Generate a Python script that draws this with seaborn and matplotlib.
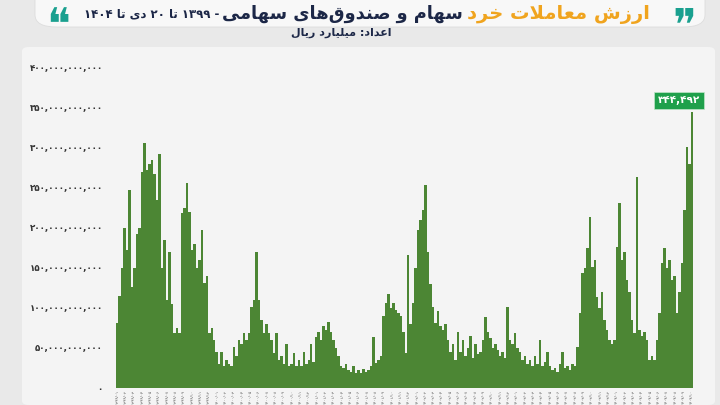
#importing libraries
import re
import numpy as np
import pandas as pd
import seaborn as sns
import matplotlib.pyplot as plt
from matplotlib.patches import FancyBboxPatch

##chart data (thousand-billion scale of the y axis)
retail_value = [
    81, 115, 150, 200, 172, 247, 126, 150, 193, 200,
    270, 306, 272, 280, 285, 268, 235, 293, 150, 185,
    110, 170, 105, 69, 75, 69, 219, 225, 256, 220,
    172, 180, 150, 160, 197, 131, 140, 69, 75, 60,
    45, 30, 45, 27, 35, 30, 27, 51, 40, 60,
    55, 69, 60, 69, 101, 110, 170, 110, 85, 69,
    80, 69, 60, 44, 69, 35, 40, 30, 55, 27,
    30, 44, 27, 35, 28, 45, 30, 35, 55, 33,
    64, 70, 60, 77, 72, 82, 70, 60, 50, 40,
    27, 25, 30, 22, 20, 27, 19, 22, 19, 24,
    20, 22, 27, 64, 31, 35, 40, 90, 106, 118,
    100, 106, 98, 94, 90, 70, 44, 166, 80, 106,
    150, 197, 210, 222, 254, 170, 130, 101, 81, 96,
    78, 73, 80, 60, 45, 55, 35, 70, 45, 60,
    40, 50, 65, 38, 55, 42, 45, 60, 89, 70,
    62, 50, 55, 48, 40, 45, 38, 101, 60, 55,
    69, 50, 45, 35, 40, 30, 35, 27, 40, 30,
    60, 28, 33, 45, 27, 22, 25, 20, 30, 45,
    25, 28, 22, 30, 27, 51, 94, 144, 150, 175,
    214, 151, 160, 114, 100, 120, 85, 73, 60, 55,
    60, 176, 231, 160, 170, 135, 120, 85, 69, 264,
    73, 65, 70, 60, 35, 40, 35, 60, 94, 156,
    175, 150, 160, 135, 140, 94, 120, 156, 222, 301,
    280, 344.492,
]
ytick_values = [0, 50, 100, 150, 200, 250, 300, 350, 400]
ytick_labels = ["۰", "۵۰,۰۰۰,۰۰۰,۰۰۰", "۱۰۰,۰۰۰,۰۰۰,۰۰۰", "۱۵۰,۰۰۰,۰۰۰,۰۰۰",
                "۲۰۰,۰۰۰,۰۰۰,۰۰۰", "۲۵۰,۰۰۰,۰۰۰,۰۰۰", "۳۰۰,۰۰۰,۰۰۰,۰۰۰",
                "۳۵۰,۰۰۰,۰۰۰,۰۰۰", "۴۰۰,۰۰۰,۰۰۰,۰۰۰"]
years = ["۱۳۹۹", "۱۴۰۰", "۱۴۰۱", "۱۴۰۲", "۱۴۰۳", "۱۴۰۴"]
months = ["۰۱", "۰۲", "۰۳", "۰۴", "۰۵", "۰۶", "۰۷", "۰۸", "۰۹", "۱۰", "۱۱", "۱۲"]
xtick_labels = [y + "/" + m for y in years for m in months][:70]
peak_label = "۳۴۴,۴۹۲"

title_orange = "ارزش معاملات خرد"
title_navy = "سهام و صندوق\u200cهای سهامی"
title_dates = "- ۱۳۹۹ تا ۲۰ دی تا ۱۴۰۴"
subtitle = "اعداد: میلیارد ریال"

##tiny arabic shaper (isolated, final, initial, medial)
FORMS = {
    'ا': ('\uFE8D', '\uFE8E', None, None), 'آ': ('\uFE81', '\uFE82', None, None),
    'ب': ('\uFE8F', '\uFE90', '\uFE91', '\uFE92'), 'پ': ('\uFB56', '\uFB57', '\uFB58', '\uFB59'),
    'ت': ('\uFE95', '\uFE96', '\uFE97', '\uFE98'), 'ث': ('\uFE99', '\uFE9A', '\uFE9B', '\uFE9C'),
    'ج': ('\uFE9D', '\uFE9E', '\uFE9F', '\uFEA0'), 'چ': ('\uFB7A', '\uFB7B', '\uFB7C', '\uFB7D'),
    'ح': ('\uFEA1', '\uFEA2', '\uFEA3', '\uFEA4'), 'خ': ('\uFEA5', '\uFEA6', '\uFEA7', '\uFEA8'),
    'د': ('\uFEA9', '\uFEAA', None, None), 'ذ': ('\uFEAB', '\uFEAC', None, None),
    'ر': ('\uFEAD', '\uFEAE', None, None), 'ز': ('\uFEAF', '\uFEB0', None, None),
    'ژ': ('\uFB8A', '\uFB8B', None, None),
    'س': ('\uFEB1', '\uFEB2', '\uFEB3', '\uFEB4'), 'ش': ('\uFEB5', '\uFEB6', '\uFEB7', '\uFEB8'),
    'ص': ('\uFEB9', '\uFEBA', '\uFEBB', '\uFEBC'), 'ض': ('\uFEBD', '\uFEBE', '\uFEBF', '\uFEC0'),
    'ط': ('\uFEC1', '\uFEC2', '\uFEC3', '\uFEC4'), 'ظ': ('\uFEC5', '\uFEC6', '\uFEC7', '\uFEC8'),
    'ع': ('\uFEC9', '\uFECA', '\uFECB', '\uFECC'), 'غ': ('\uFECD', '\uFECE', '\uFECF', '\uFED0'),
    'ف': ('\uFED1', '\uFED2', '\uFED3', '\uFED4'), 'ق': ('\uFED5', '\uFED6', '\uFED7', '\uFED8'),
    'ک': ('\uFB8E', '\uFB8F', '\uFB90', '\uFB91'), 'گ': ('\uFB92', '\uFB93', '\uFB94', '\uFB95'),
    'ل': ('\uFEDD', '\uFEDE', '\uFEDF', '\uFEE0'), 'م': ('\uFEE1', '\uFEE2', '\uFEE3', '\uFEE4'),
    'ن': ('\uFEE5', '\uFEE6', '\uFEE7', '\uFEE8'), 'ه': ('\uFEE9', '\uFEEA', '\uFEEB', '\uFEEC'),
    'و': ('\uFEED', '\uFEEE', None, None), 'ی': ('\uFBFC', '\uFBFD', '\uFBFE', '\uFBFF'),
}


def shape(text):
    out = []
    i = 0
    while i < len(text):
        c = text[i]
        prev = text[i - 1] if i > 0 else ''
        nxt = text[i + 1] if i + 1 < len(text) else ''
        joins_prev = prev in FORMS and FORMS[prev][2] is not None
        if c == 'ل' and nxt in ('ا', 'آ'):
            out.append('\uFEFC' if joins_prev else '\uFEFB')
            i += 2
            continue
        if c not in FORMS:
            if c != '\u200c':
                out.append(c)
            i += 1
            continue
        joins_next = FORMS[c][2] is not None and nxt in FORMS
        iso, fin, ini, med = FORMS[c]
        if joins_prev and joins_next:
            out.append(med)
        elif joins_prev:
            out.append(fin)
        elif joins_next:
            out.append(ini)
        else:
            out.append(iso)
        i += 1
    # right-to-left visual order, digit runs stay left-to-right
    tokens = re.findall(r'[0-9۰-۹,/]+|[^0-9۰-۹,/]+', ''.join(out))
    return ''.join(t if re.match(r'[0-9۰-۹]', t) else t[::-1] for t in tokens[::-1])


##figure
sns.set_style("white")
plt.rcParams['font.family'] = ['DejaVu Sans']
fig = plt.figure(figsize=(7.2, 4.05), dpi=100, facecolor='#e9e9e9')

# background panels
fig.patches.append(FancyBboxPatch((22 / 720, 0), 693 / 720, 358 / 405, boxstyle="round,pad=0,rounding_size=0.01",
                                  transform=fig.transFigure, facecolor='#f4f4f4', edgecolor='none', zorder=-10))
fig.patches.append(FancyBboxPatch((35 / 720, 378 / 405), 670 / 720, 40 / 405, boxstyle="round,pad=0,rounding_size=0.03",
                                  transform=fig.transFigure, facecolor='#f8f8f8', edgecolor='#dddddd', lw=0.6, zorder=-10))

ax = fig.add_axes([116 / 720, 17 / 405, 577 / 720, 320 / 405])
ax.set_facecolor('none')

df = pd.DataFrame({'period': np.arange(len(retail_value)), 'value': retail_value})
sns.barplot(data=df, x='period', y='value', color='#4c8634', saturation=1, width=1.0,
            linewidth=0, ax=ax)

ax.set_xlim(-0.5, len(retail_value) - 0.5)
ax.set_ylim(0, 400)
ax.set_yticks(ytick_values)
ax.set_yticklabels(ytick_labels, fontsize=6.3, color='#333333', fontweight='bold')
ax.set_xticks(np.linspace(0, len(retail_value) - 1, len(xtick_labels)))
ax.set_xticklabels(xtick_labels, rotation=90, fontsize=2.9, color='#555555')
ax.tick_params(axis='y', length=0, pad=9.5)
ax.tick_params(axis='x', length=0, pad=1)
ax.set_xlabel('')
ax.set_ylabel('')
sns.despine(ax=ax, left=True, bottom=True)

# peak label
ax.annotate(peak_label, xy=(len(retail_value) - 1, retail_value[-1]), xytext=(-9, 5),
            textcoords='offset points', ha='center', va='bottom', fontsize=7.5,
            fontweight='bold', color='white', annotation_clip=False,
            bbox=dict(boxstyle='square,pad=0.35', facecolor='#1fa04b', edgecolor='#bfe5c8', lw=0.5))

# title
t1 = fig.text(650 / 720, 391 / 405, shape(title_orange), ha='right', va='center',
              fontsize=14, fontweight='bold', color='#f0a41e')
t2 = ax.annotate(shape(title_navy), xy=(0, 0.5), xycoords=t1, xytext=(-3, 0), textcoords='offset points',
                 ha='right', va='center', fontsize=12.8, fontweight='bold', color='#1c2747',
                 annotation_clip=False)
t3 = ax.annotate(shape(title_dates), xy=(0, 0.5), xycoords=t2, xytext=(-2, 0), textcoords='offset points',
                 ha='right', va='center', fontsize=8.5, fontweight='bold', color='#1c2747',
                 annotation_clip=False)
fig.text(341 / 720, 372 / 405, shape(subtitle), ha='center', va='center',
         fontsize=8, fontweight='bold', color='#1c2747')

# quote marks
fig.text(684 / 720, 378 / 405, '\u275e', ha='center', va='center', fontsize=32, color='#1aa08f')
fig.text(58 / 720, 378 / 405, '\u275d', ha='center', va='center', fontsize=32, color='#1aa08f')

fig.savefig('out.png', dpi=100, facecolor=fig.get_facecolor())
